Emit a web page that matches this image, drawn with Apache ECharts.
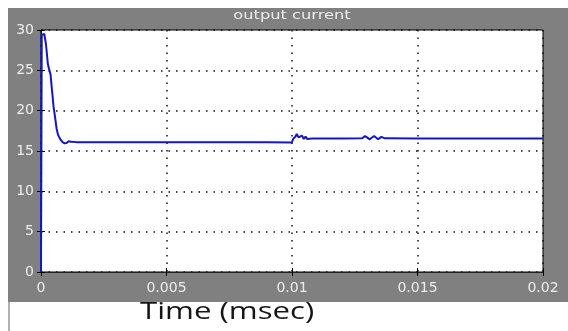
<!DOCTYPE html>
<html>
<head>
<meta charset="utf-8">
<script src="https://cdn.jsdelivr.net/npm/echarts@6/dist/echarts.min.js"></script>
<style>
  html, body { margin: 0; padding: 0; background: #ffffff; }
  #chart { width: 568px; height: 331px; }
</style>
</head>
<body>
<div id="chart"></div>
<script>
// Output current waveform (time in seconds, current in A)
const timeValues = [
  0, 0.00003, 0.00013, 0.0002, 0.00027, 0.0003, 0.00034, 0.00038, 0.00044,
  0.0005, 0.00056, 0.00062, 0.00068, 0.00076, 0.00086, 0.00094, 0.00102,
  0.0011, 0.0012, 0.0014, 0.003, 0.005, 0.007, 0.009, 0.00999,
  0.01005, 0.01014, 0.01019, 0.01026, 0.01032, 0.0104, 0.01047, 0.01054,
  0.0106, 0.01067, 0.0108, 0.011, 0.012, 0.0128, 0.01291, 0.0131, 0.01327,
  0.01343, 0.01356, 0.0137, 0.015, 0.017, 0.02
];
const currentValues = [
  0, 29.4, 29.5, 28.2, 25.9, 25.4, 25.5, 24.5, 22.5,
  20.5, 19.2, 17.8, 17.0, 16.5, 16.1, 15.95, 16.0,
  16.2, 16.15, 16.1, 16.1, 16.1, 16.1, 16.1, 16.05,
  16.5, 16.8, 17.1, 16.7, 16.55, 16.9, 16.5, 16.8,
  16.5, 16.65, 16.55, 16.55, 16.55, 16.57, 16.85, 16.45, 16.85,
  16.45, 16.75, 16.57, 16.55, 16.55, 16.55
];
const yTicks = { min: 0, max: 30, step: 5 };
const xTicks = { min: 0, max: 0.02, step: 0.005 };

const seriesData = timeValues.map((t, i) => [t, currentValues[i]]);

const chart = echarts.init(document.getElementById('chart'), null, { renderer: 'canvas' });

const labelStyle = { color: '#ececec', fontSize: 14, fontFamily: 'DejaVu Sans' };
const gridDots = { show: true, lineStyle: { color: '#111', width: 1.5, type: [1.5, 6] } };

chart.setOption({
  animation: false,
  backgroundColor: '#ffffff',
  graphic: [
    { type: 'rect', z: -10, shape: { x: 8, y: 8, width: 560, height: 294 }, style: { fill: '#808080' } },
    { type: 'line', z: -10, shape: { x1: 9, y1: 302, x2: 9, y2: 331 }, style: { stroke: '#b0b0b0', lineWidth: 2 } },
    {
      type: 'text', x: 292, y: 9, scaleX: 1.25,
      style: { text: 'output current', fill: '#ececec', font: '13px "DejaVu Sans"', textAlign: 'center' }
    },
    {
      type: 'text', x: 140, y: 300, scaleX: 1.3,
      style: { text: 'Time (msec)', fill: '#151515', font: '24px "Open Sans"' }
    }
  ],
  grid: {
    left: 41, top: 30, right: 25, bottom: 59,
    show: true, backgroundColor: '#ffffff', borderColor: '#000', borderWidth: 1
  },
  xAxis: [
    {
      type: 'value', min: xTicks.min, max: xTicks.max, interval: xTicks.step,
      axisLine: { show: true, lineStyle: { color: '#000' } },
      axisTick: { show: true, inside: true, length: 4, lineStyle: { color: '#000' } },
      axisLabel: Object.assign({ margin: 9 }, labelStyle),
      splitLine: gridDots
    },
    {
      type: 'value', position: 'top', min: xTicks.min, max: xTicks.max, interval: xTicks.step,
      axisLine: { show: true, lineStyle: { color: '#222' } },
      axisTick: { show: true, inside: true, length: 4, lineStyle: { color: '#000' } },
      axisLabel: { show: false }, splitLine: { show: false }
    }
  ],
  yAxis: [
    {
      type: 'value', min: yTicks.min, max: yTicks.max, interval: yTicks.step,
      axisLine: { show: true, lineStyle: { color: '#000' } },
      axisTick: { show: true, inside: true, length: 4, lineStyle: { color: '#000' } },
      axisLabel: Object.assign({ margin: 7 }, labelStyle),
      splitLine: gridDots
    },
    {
      type: 'value', position: 'right', min: yTicks.min, max: yTicks.max, interval: yTicks.step,
      axisLine: { show: true, lineStyle: { color: '#000' } },
      axisTick: { show: true, inside: true, length: 4, lineStyle: { color: '#000' } },
      axisLabel: { show: false }, splitLine: { show: false }
    }
  ],
  series: [{
    type: 'line',
    data: seriesData,
    showSymbol: false,
    lineStyle: { color: '#1515c8', width: 2 },
    z: 5
  }]
});
</script>
</body>
</html>
